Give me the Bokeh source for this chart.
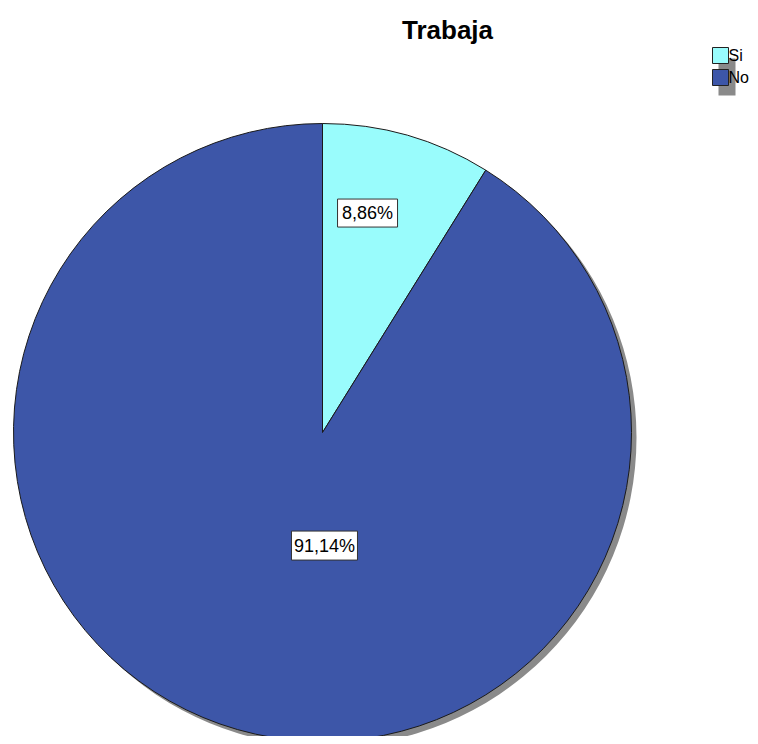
import math
from bokeh.plotting import figure
from bokeh.models import Range1d, Label
from bokeh.embed import file_html
from bokeh.resources import INLINE
from bokeh.core.properties import value

# ---- data ----
title_text = "Trabaja"
categories = ["Si", "No"]
percents = [8.86, 91.14]
pct_labels = ["8,86%", "91,14%"]
colors = ["#99FCFC", "#3D56A8"]

# ---- layout (picture pixel frame; y_data = 744 - picture_y) ----
W, H = 750, 736
cx, cy = 322, 744 - 432
R = 309
label_angle = [78.4, -89.0]   # degrees, placement of value labels
label_rfrac = [0.725, 0.366]
label_box = [(60, 28), (66, 29)]

p = figure(width=W, height=H, output_backend="svg", toolbar_location=None,
           x_range=Range1d(0, W), y_range=Range1d(744 - H, 744),
           min_border=0)
p.axis.visible = False
p.grid.visible = False
p.outline_line_color = None
p.background_fill_color = "white"

# shadow
p.wedge(x=cx + 5, y=cy - 5, radius=R, start_angle=0, end_angle=2 * math.pi,
        fill_color="#8A8A8A", line_color=None)

# wedges, clockwise from top
start = math.pi / 2
for cat, pct, col in zip(categories, percents, colors):
    sweep = pct / 100 * 2 * math.pi
    end = start - sweep
    p.wedge(x=cx, y=cy, radius=R, start_angle=end, end_angle=start,
            fill_color=col, line_color="#1a1a1a", line_width=1)
    start = end

# value labels
for lab, ang, rf, (bw, bh) in zip(pct_labels, label_angle, label_rfrac, label_box):
    lx = cx + R * rf * math.cos(math.radians(ang))
    ly = cy + R * rf * math.sin(math.radians(ang))
    p.rect(x=lx, y=ly, width=bw, height=bh, fill_color="white",
           line_color="#333333", line_width=1)
    p.text(x=[lx], y=[ly], text=[lab], text_align="center", text_baseline="middle",
           text_font=value("Liberation Sans"), text_font_size="18px", text_color="black")

# title
p.add_layout(Label(x=447, y=744 - 29, text=title_text, text_align="center",
                   text_baseline="middle", text_font="Liberation Sans",
                   text_font_size="26px", text_font_style="bold", text_color="black"))

# legend
p.quad(left=718, right=735, top=744 - 58, bottom=744 - 95, fill_color="#8A8A8A", line_color=None)
for i, (cat, col) in enumerate(zip(categories, colors)):
    yc = 744 - (55 + i * 22)
    p.rect(x=720, y=yc, width=16, height=16, fill_color=col, line_color="#222222", line_width=1)
    p.text(x=[728], y=[yc], text=[cat], text_align="left", text_baseline="middle",
           text_font=value("Liberation Sans"), text_font_size="16px", text_color="black")

open("out.html", "w").write(file_html(p, INLINE))
